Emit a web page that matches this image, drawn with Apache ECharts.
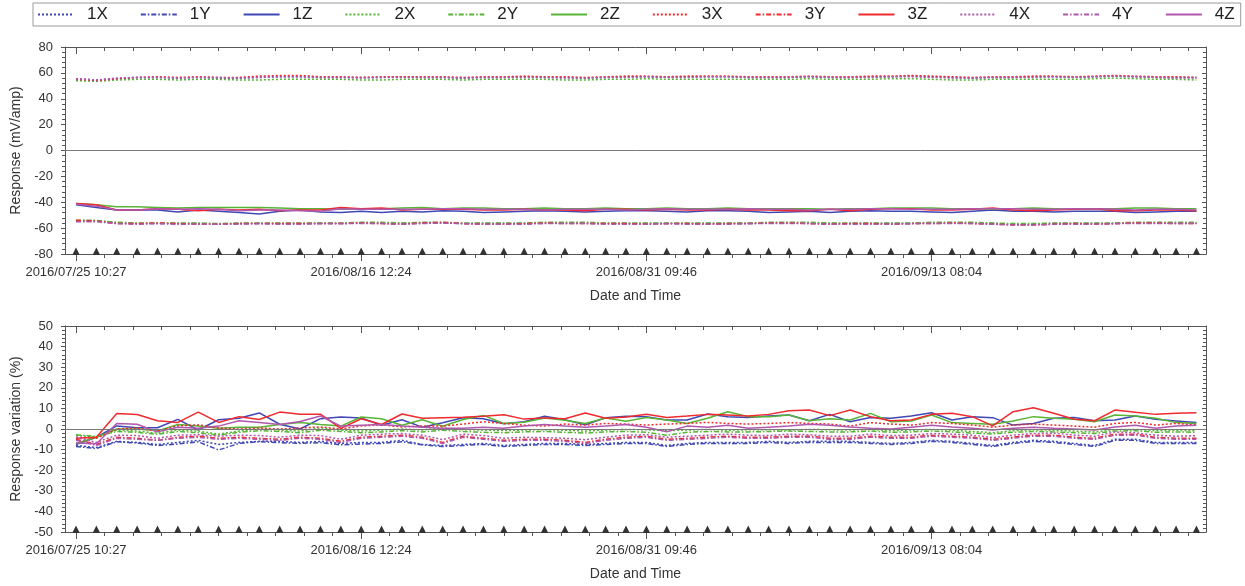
<!DOCTYPE html>
<html><head><meta charset="utf-8">
<script src="https://cdn.jsdelivr.net/npm/echarts@6/dist/echarts.min.js"></script>
<style>html,body{margin:0;padding:0;background:#fff}#c{width:1245px;height:586px}</style>
</head><body><div id="c"></div><script>
// ---- data ----
const N = 56; // number of measurements (one per triangle marker)
const tickIndex = [0, 14, 28, 42];
const tickLabels = ['2016/07/25 10:27', '2016/08/16 12:24', '2016/08/31 09:46', '2016/09/13 08:04'];
const seriesNames = ['1X','1Y','1Z','2X','2Y','2Z','3X','3Y','3Z','4X','4Y','4Z'];

// Response (mV/amp)
const resp1X = [55.5,54.5,55.5,56.5,56.5,56,56.5,56,56,56.5, 57,57,56.5,56.5,56.5,56.5,57,56.5,56.5,56, 56.5,56.5,57,56.5,56.5,56,56.5,57,57,56.5, 57,57,57,56.5,56.5,56.5,57,56.5,56.5,57, 57,57.5,57,56.5,56,56.5,56.5,57,57,56.5, 57,57.5,57,56.5,56.5,56.5];
const resp1Y = [-54.5,-54.5,-56,-56.5,-56.5,-56.5,-56.5,-57,-56.5,-56.5, -56.5,-56.5,-56.5,-56.5,-56,-56,-56.5,-56,-56,-56.5, -56.5,-56.5,-56.5,-56,-56,-56,-56.5,-56.5,-56.5,-56.5, -56.5,-56.5,-56.5,-56.5,-56,-56,-56,-56.5,-56.5,-56.5, -56.5,-56.5,-56,-56,-56,-56.5,-57,-57,-56.5,-56.5, -56.5,-56.5,-56,-56,-56,-56];
const resp1Z = [-42,-44,-46,-46,-46,-47.5,-46,-47,-48,-49, -47,-46,-47.5,-48,-47,-48,-47,-47.5,-46.5,-47, -48,-47.5,-47,-46.5,-47,-47.5,-47,-46.5,-46.5,-47, -47.5,-46.5,-46.5,-47,-48,-47.5,-47,-48,-47,-46.5, -47,-47,-47.5,-48,-47,-46,-47,-47,-47.5,-47, -47,-47,-48,-47.5,-47,-47];
const resp2X = [54,53.5,54.5,55,55,54.5,55,55,54.5,54.5, 55,55,55,55,54.5,54.5,55,55,55,54.5, 55,55,55,55,54.5,54.5,55,55,55.5,55, 55,55,55,55,55,55,55.5,55,55,55, 55.5,55.5,55,54.5,54.5,55,55,55,55,55, 55.5,56,55.5,55,55,54.5];
const resp2Y = [-54,-54,-55.5,-56,-56,-56,-56,-56.5,-56,-56, -56,-56,-56,-56,-55.5,-55.5,-56,-55.5,-55.5,-56, -56,-56,-56,-55.5,-55.5,-55.5,-56,-56,-56,-56, -56,-56,-56,-56,-55.5,-55.5,-55.5,-56,-56,-56, -56,-56,-55.5,-55.5,-55.5,-56,-56.5,-56.5,-56,-56, -56,-56,-55.5,-55.5,-55.5,-55.5];
const resp2Z = [-41,-42,-43.5,-43.5,-44,-44.5,-44,-44,-44,-44, -44.5,-45,-45,-45.5,-45,-45,-44.5,-44,-45,-44.5, -44.5,-45,-45,-44.5,-45,-45,-44.5,-45,-45,-44.5, -45,-45,-44.5,-45,-45,-45,-45,-45.5,-45,-45, -44.5,-44.5,-44.5,-45,-45,-45.5,-45,-44.5,-45,-45.5, -45,-45,-44.5,-44.5,-45,-45];
const resp3X = [55,54,55.5,56.5,57,56.5,57,56.5,56.5,57.5, 58,58,57,57,56.5,57,57,57,57,56.5, 57,57,57.5,57,57,56.5,57,57.5,57.5,57, 57.5,57.5,57.5,57,57,57,57.5,57,57,57.5, 57.5,58,57.5,57,56.5,57,57,57.5,57.5,57, 57.5,58,57.5,57,57,56.5];
const resp3Y = [-54,-54.5,-56.5,-56.5,-56,-56.5,-57,-57,-56.5,-56.5, -56.5,-56.5,-56.5,-56.5,-56,-56.5,-57,-56,-55.5,-56.5, -57,-57,-56.5,-56,-56.5,-56.5,-56.5,-56.5,-57,-56.5, -56.5,-57,-56.5,-56.5,-56,-56,-56.5,-57,-56.5,-56.5, -57,-56.5,-56.5,-56,-56.5,-57,-57.5,-57.5,-57,-56.5, -57,-56.5,-56,-56,-56.5,-56.5];
const resp3Z = [-41,-42,-46,-46,-45,-45.5,-46.5,-45.5,-46,-45.5, -46.5,-46,-46,-44,-45,-44.5,-46,-45.5,-45.5,-45.5, -46,-46,-45.5,-46,-46,-46.5,-45.5,-45.5,-46,-45.5, -46,-46,-45.5,-46,-46,-46.5,-46.5,-45.5,-46.5,-45.5, -45,-45,-46,-46,-45.5,-44.5,-46,-46.5,-46,-45.5, -45,-46.5,-46.5,-46,-46,-46.5];
const resp4X = [55.5,54.5,56,56.5,56.5,56,56.5,56.5,56,56.5, 57,57,56.5,56.5,56,56.5,56.5,56.5,56.5,56, 56.5,56.5,56.5,56.5,56,56,56.5,56.5,57,56.5, 56.5,57,57,56.5,56.5,56.5,57,56.5,56.5,56.5, 57,57,56.5,56,56,56.5,56.5,56.5,57,56.5, 57,57.5,57,56.5,56,56];
const resp4Y = [-55,-55,-56.5,-57,-56.5,-57,-57,-57,-57,-56.5, -57,-57,-56.5,-56.5,-56.5,-56.5,-57,-56.5,-56,-56.5, -57,-57,-57,-56.5,-56.5,-56.5,-57,-57,-57,-56.5, -57,-57,-57,-56.5,-56.5,-56.5,-56.5,-57,-57,-57, -57,-56.5,-56.5,-56.5,-56.5,-57,-57.5,-57.5,-57,-57, -57,-56.5,-56.5,-56.5,-56.5,-56.5];
const resp4Z = [-41.5,-43,-46,-46,-45,-45.5,-45,-45.5,-46.5,-46, -46,-46.5,-47,-45,-45.5,-45.5,-45.5,-45.5,-45,-45, -45.5,-45.5,-45.5,-46,-45.5,-45.5,-45.5,-46,-45.5,-45, -45.5,-45.5,-45.5,-45,-45.5,-45.5,-46,-45.5,-45.5,-45, -45,-45.5,-45.5,-45.5,-45,-45,-45,-45.5,-45.5,-45, -45,-45.5,-46,-45.5,-45.5,-46];

// Response variation (%)
const var1X = [-8,-9,-6,-6.5,-7.5,-6.5,-5.5,-7.5,-6.5,-6, -6,-6.5,-6,-7,-6.5,-6.5,-5.5,-7.5,-8, -7.5,-7,-8,-7.5,-7,-7,-7.5,-7,-6.5,-6.5, -8,-7,-6.5,-6.5,-6.5,-6,-6.5,-6,-6, -6,-6.5,-7,-6.5,-5.5,-6,-7,-8,-6.5,-5.5, -6,-7,-8,-5,-5,-6.5,-6.5,-6.5];
const var1Y = [-8.5,-9.5,-6.2,-6.8,-8,-7.3,-6.2,-10.2,-7,-6.2, -6.6,-7,-6.6,-7.7,-7.3,-7,-6.2,-7.7,-8.5, -8,-7.5,-8.5,-8,-7.5,-7.5,-8,-7.5,-7,-7, -8.5,-7.5,-7,-7,-7,-6.5,-7,-6.5,-6.5, -6.5,-7,-7.5,-7,-6,-6.5,-7.5,-8.5,-7,-6, -6.5,-7.5,-8.5,-5.5,-5.5,-7,-7,-7];
const var1Z = [-7.5,-4,1.5,0.6,0.6,4.7,-0.5,4.5,5.2,7.8, 2.3,0,5,5.8,5.3,1.8,4.5,0.9,3,5.5, 5,2.5,3.5,6.2,4.5,2,5.5,6.2,6,4.4, 4.4,7.3,6,5.6,6.3,6.8,4,7.1,3.5,5.6, 5.2,6.3,7.9,4.4,6,5.5,1.9,2.7,5.2,5.6, 4,4.4,6.3,4.7,3.9,3.1];
const var2X = [-3,-4,-0.5,-1,-2,-0.5,-1,-2.5,-1,0, -0.5,-1,0.5,-0.5,-1,-0.5,0,-0.5,0.5, -0.3,-0.5,-0.8,-0.5,-0.3,-0.6,-1,-0.5,-0.2,-0.4, -0.8,-0.5,-0.2,-0.6,-0.4,-0.3,-0.5,-0.2,-0.4, -0.5,-0.2,-0.8,-0.5,-0.2,-0.6,-1.2,-1.8,-0.8,-0.4, -0.6,-1,-1.4,-0.3,-0.2,-0.8,-0.6,-0.9];
const var2Y = [-2.8,-3.6,-1.2,-1.6,-2.6,-1.2,-1.8,-3,-1.6,-0.8, -1.2,-1.8,-0.6,-1.2,-1.8,-1.4,-0.8,-1.4,-0.6, -1.2,-1.6,-1.8,-1.4,-1.2,-1.6,-2,-1.4,-1.2,-1.6, -3,-1.6,-1.2,-1.4,-1.4,-1.2,-1,-1.2,-1.4, -1.4,-1,-1.6,-1.4,-1,-1.4,-2,-2.4,-1.6,-1.2, -1.4,-1.8,-2.2,-1,-0.8,-1.6,-1.4,-1.6];
const var2Z = [-7,-4,0,0,-0.9,2.2,1.4,0.4,0.9,0.9, 2.2,3.2,2.2,1.4,5.8,5,1.8,4.5,1.3,4.6, 6.6,2.7,3.3,5.3,4.3,2.7,5.3,3.8,5.6,4.4, 2.7,5.2,8.4,6,6,6.8,4,5,4.4,7.6, 3.5,3.9,6.8,3.1,2.7,2.3,3.9,6,5.2,4.7, 3.5,6.8,6.3,5.2,3.1,2.7];
const var3X = [-4,-4.5,0,0.5,-1,1.5,2,0.5,0,0.5, 0,0.5,1,0,1.5,2,1,1.5,1.4, 2.4,3.5,2.7,1.9,1.4,2.4,1.9,2.7,2.4,1.9, 2.4,2.7,3.2,2.7,2.4,2.7,3.1,2.7,2.4, 1.4,3.1,2.4,1.9,3.1,2.7,1.9,0.9,1.9,2.4, 1.9,1.4,0.9,2.7,3.2,1.9,2.7,1.9];
const var3Y = [-5,-7.5,-4,-4.5,-5.5,-4,-3.5,-4.5,-4,-4.5, -5,-4,-4.5,-6,-4,-3.5,-3,-4,-6.5, -3.5,-4.5,-5.5,-5,-5,-5.5,-6.5,-5,-4,-3.5, -5,-4.5,-4,-3.5,-4,-4,-3.5,-3.5,-4.5, -4.5,-3.5,-4,-4,-3,-3.5,-4,-5,-4,-3, -3,-4,-4.5,-2.5,-2.5,-4,-4.5,-4.5];
const var3Z = [-4.5,-4,7.5,7,4,3.2,8.2,3.2,6,4.6, 8.2,7.2,7.2,0.3,5,2.2,7.3,5.2,5.5,5.7, 6.2,6.9,4.8,5.4,5,7.8,5.2,5.8,7.2,5.6, 6.3,7.1,6.8,6.3,7.1,8.9,9.2,6.5,9.2,6, 4,4.4,7.1,7.6,6,1.5,8.4,10.3,7.6,4.7, 4,9.2,8.1,7.1,7.6,7.9];
const var4X = [-4,-6.5,-3,-3.2,-4.5,-3,-2.8,-3.5,-3,-3.2, -4,-3,-3.2,-5,-3,-2.5,-2.2,-3,-5.2, -2.5,-3.2,-4.5,-4,-4.2,-4.5,-5.2,-4,-3,-2.8, -4,-3.5,-3,-2.5,-3,-3.2,-2.5,-2.8,-3.5, -3.5,-2.5,-3.2,-3,-2.2,-2.5,-3,-4.2,-3,-2.2, -2,-3,-3.5,-1.5,-1.8,-3,-3.5,-3.2];
const var4Y = [-5.5,-8,-4.5,-5,-5.5,-4.5,-4,-5,-4.5,-5, -5.5,-4.5,-5,-6.5,-4.5,-4,-3.5,-4.5,-7, -4,-5,-6,-5.5,-5.5,-6,-7,-5.5,-4.5,-4, -5.5,-5,-4.5,-4,-4.5,-4.5,-4,-4,-5, -5,-4,-4.5,-4.5,-3.5,-4,-4.5,-5.5,-4.5,-3.5, -3.5,-4.5,-5,-3,-3,-4.5,-5,-5];
const var4Z = [-6.8,-7.2,2.7,2.3,-1.4,0.9,0.4,1.4,4,3.2, 2.2,3.6,6.3,1.4,1.8,2.2,1.4,0.9,0.4,0.4, 0.9,0.4,1.4,2.2,1.4,0.9,1.4,2.2,0.9,-1.3, 1.4,0.9,1.8,0.4,0.9,1.4,2.3,1.8,1,0.4, 0,0.9,1.8,1,0.4,-0.5,0.4,0.9,0.4,0, -0.5,1,1.8,0.4,1.4,1.8];

const respData = {'1X':resp1X,'1Y':resp1Y,'1Z':resp1Z,'2X':resp2X,'2Y':resp2Y,'2Z':resp2Z,'3X':resp3X,'3Y':resp3Y,'3Z':resp3Z,'4X':resp4X,'4Y':resp4Y,'4Z':resp4Z};
const varData = {'1X':var1X,'1Y':var1Y,'1Z':var1Z,'2X':var2X,'2Y':var2Y,'2Z':var2Z,'3X':var3X,'3Y':var3Y,'3Z':var3Z,'4X':var4X,'4Y':var4Y,'4Z':var4Z};

// ---- styling ----
const sensorColors = {'1':'#3f48b4','2':'#58b434','3':'#f02a2e','4':'#b057ae'};
const dashTypes = {'X':[2,2],'Y':[5,2,1.5,2],'Z':'solid'};
const FONT = '"Liberation Sans", Arial, sans-serif';
const XMIN = -0.54, XMAX = 55.47;
const idx = Array.from({length:N}, (_, i) => i);
const minorTicks = [];
for (let k = 0; k * 1.4 <= XMAX; k++) minorTicks.push(+(k * 1.4).toFixed(2));

const axisColor = '#555';
function xAxesFor(g) {
  const base = {gridIndex:g, type:'value', min:XMIN, max:XMAX, splitLine:{show:false}};
  return [
    Object.assign({}, base, {position:'bottom',
      axisLine:{show:true, onZero:false, lineStyle:{color:axisColor}},
      axisTick:{show:true, customValues:minorTicks, length:4, lineStyle:{color:axisColor}},
      axisLabel:{show:true, customValues:tickIndex, margin:12, fontSize:13, color:'#333', fontFamily:FONT,
        formatter:(v)=>{const k=tickIndex.indexOf(Math.round(v)); return k>=0?tickLabels[k]:'';}},
      name:'Date and Time', nameLocation:'middle', nameGap:35,
      nameTextStyle:{fontSize:14, color:'#333', fontFamily:FONT}}),
    Object.assign({}, base, {position:'bottom',
      axisLine:{show:false, onZero:false},
      axisTick:{show:true, customValues:tickIndex, length:7, lineStyle:{color:axisColor}},
      axisLabel:{show:false}}),
    Object.assign({}, base, {position:'top',
      axisLine:{show:true, onZero:false, lineStyle:{color:axisColor}},
      axisTick:{show:true, inside:true, customValues:minorTicks, length:4, lineStyle:{color:axisColor}},
      axisLabel:{show:false}}),
    Object.assign({}, base, {position:'top',
      axisLine:{show:false, onZero:false},
      axisTick:{show:true, inside:true, customValues:tickIndex, length:7, lineStyle:{color:axisColor}},
      axisLabel:{show:false}})
  ];
}
function yAxesFor(g, min, max, interval, name) {
  const base = {gridIndex:g, type:'value', min:min, max:max, interval:interval, splitLine:{show:false}};
  return [
    Object.assign({}, base, {position:'left',
      axisLine:{show:true, onZero:false, lineStyle:{color:axisColor}},
      axisTick:{show:true, length:4, lineStyle:{color:axisColor}},
      minorTick:{show:true, splitNumber:5, length:3, lineStyle:{color:axisColor}},
      axisLabel:{margin:12, fontSize:13, color:'#333', fontFamily:FONT},
      name:name, nameLocation:'middle', nameGap:42,
      nameTextStyle:{fontSize:14, color:'#333', fontFamily:FONT}}),
    Object.assign({}, base, {position:'right',
      axisLine:{show:true, onZero:false, lineStyle:{color:axisColor}},
      axisTick:{show:true, inside:true, length:4, lineStyle:{color:axisColor}},
      minorTick:{show:true, splitNumber:5, length:3, lineStyle:{color:axisColor}},
      axisLabel:{show:false}})
  ];
}

const series = [];
function addLines(dataMap, xi, yi) {
  seriesNames.forEach(n => {
    const arr = dataMap[n];
    series.push({
      name:n, type:'line', xAxisIndex:xi, yAxisIndex:yi,
      data: idx.map(i => [i, arr[i]]),
      symbol:'none', showSymbol:false,
      lineStyle:{color:sensorColors[n[0]], width:1.5, type:dashTypes[n[1]]},
      itemStyle:{color:sensorColors[n[0]]},
      emphasis:{disabled:true}
    });
  });
}
function addMarkers(xi, yi, ymin) {
  series.push({
    type:'scatter', xAxisIndex:xi, yAxisIndex:yi, silent:true,
    data: idx.map(i => [i, ymin]),
    symbol:'triangle', symbolSize:7, symbolOffset:[0,-3],
    itemStyle:{color:'#000'}, clip:false, z:5,
    markLine:{silent:true, symbol:['none','none'], label:{show:false},
      lineStyle:{color:'#7a7a7a', width:1, type:'solid'}, data:[{yAxis:0}]}
  });
}
addLines(respData, 0, 0);
addMarkers(0, 0, -80);
addLines(varData, 4, 2);
addMarkers(4, 2, -50);

const option = {
  animation:false,
  backgroundColor:'#fff',
  textStyle:{fontFamily:FONT},
  legend:{
    data:seriesNames, left:33, top:3, orient:'horizontal',
    itemWidth:36, itemHeight:10, itemGap:32,
    padding:[3,6,3,4], borderColor:'#9a9a9a', borderWidth:1,
    itemStyle:{opacity:0},
    textStyle:{fontSize:17, color:'#222', fontFamily:FONT, padding:[0,0,0,8]}
  },
  grid:[
    {left:65, right:39, top:47, height:207},
    {left:65, right:39, top:326, height:206}
  ],
  xAxis: xAxesFor(0).concat(xAxesFor(1)),
  yAxis: yAxesFor(0, -80, 80, 20, 'Response (mV/amp)').concat(yAxesFor(1, -50, 50, 10, 'Response variation (%)')),
  series: series
};
const chart = echarts.init(document.getElementById('c'), null, {renderer:'canvas'});
chart.setOption(option);
</script></body></html>
